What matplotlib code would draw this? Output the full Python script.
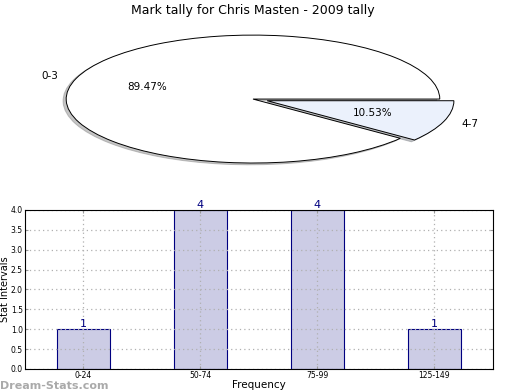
import numpy as np
import matplotlib.pyplot as plt

# Données du camembert
pie_labels = ['0-3', '4-7']
pie_values = [17, 2]
pie_colors = ['white', '#ebf1fc']
pie_explode = [0, 0.08]

# Données de l'histogramme
bar_labels = ['0-24', '50-74', '75-99', '125-149']
bar_values = [1, 4, 4, 1]
y_ticks = [0.0, 0.5, 1.0, 1.5, 2.0, 2.5, 3.0, 3.5, 4.0]

fig = plt.figure(figsize=(5.2, 3.9), dpi=100)

# ==========================================
# 1. Camembert (ellipse, aspect libre)
# ==========================================
ax1 = fig.add_axes([0.0375, 0.541, 0.898, 0.41])
wedges, texts, autotexts = ax1.pie(pie_values, labels=pie_labels, colors=pie_colors,
                                   explode=pie_explode, autopct='%.2f%%',
                                   shadow={'ox': -0.012, 'oy': -0.02, 'shade': 0.45},
                                   startangle=0, labeldistance=1.1,
                                   wedgeprops={'edgecolor': 'black', 'linewidth': 0.7},
                                   textprops={'fontsize': 7.5})
ax1.set_aspect('auto')
ax1.set_xlim(-1.25, 1.25)
ax1.set_ylim(-1.25, 1.25)
ax1.set_title('Mark tally for Chris Masten - 2009 tally', fontsize=9, pad=4)

# ==========================================
# 2. Histogramme
# ==========================================
ax2 = fig.add_axes([0.048, 0.054, 0.9, 0.4077])
x = np.arange(len(bar_labels))
barres = ax2.bar(x, bar_values, width=0.45, color='#ccccE5', edgecolor='#000080',
                 linewidth=0.8, zorder=2)
for xi, v in zip(x, bar_values):
    ax2.text(xi, v, str(v), ha='center', va='bottom', color='#000080', fontsize=8)

ax2.set_xlim(-0.5, 3.5)
ax2.set_ylim(0, 4)
ax2.set_xticks(x)
ax2.set_xticklabels(bar_labels)
ax2.set_yticks(y_ticks)
ax2.set_yticklabels([f'{t:.1f}' for t in y_ticks])
ax2.tick_params(labelsize=5.5, direction='in', length=2, top=True, right=True, pad=1.5,
                color='#999999')
ax2.grid(True, linestyle=(0, (1, 2.5)), color='#b0b0b0', linewidth=0.9, zorder=3)
ax2.set_axisbelow(False)
for s in ax2.spines.values():
    s.set_zorder(5)
ax2.set_xlabel('Frequency', fontsize=7.5, labelpad=0)
ax2.yaxis.set_label_coords(-0.032, 0.5)
ax2.set_ylabel('Stat Intervals', fontsize=7)

fig.text(0.0, 0.002, 'Dream-Stats.com', color='#aaaaaa', fontsize=8, fontweight='bold')

fig.savefig('out.png', dpi=100)
plt.close('all')
